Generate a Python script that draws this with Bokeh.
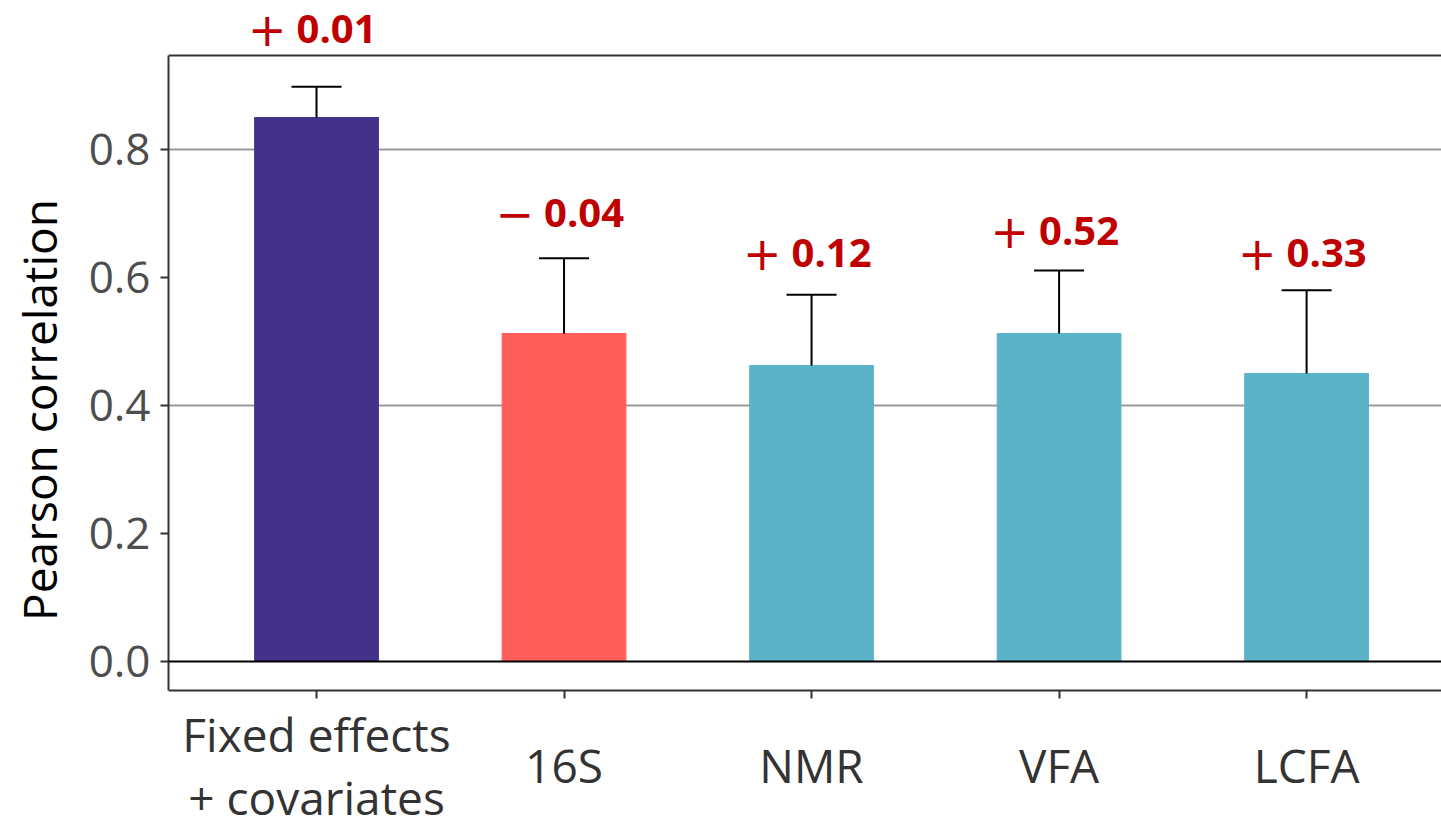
from bokeh.plotting import figure
from bokeh.models import (Range1d, FixedTicker, LinearAxis, Label, Span, Whisker,
                          ColumnDataSource, TeeHead, PrintfTickFormatter)
from bokeh.embed import file_html
from bokeh.resources import INLINE

categories = ["Fixed effects\n+ covariates", "16S", "NMR", "VFA", "LCFA"]
correlation = [0.85, 0.5125, 0.4625, 0.5125, 0.45]
upper = [0.898, 0.630, 0.573, 0.611, 0.580]
change_sign = ["+", "\u2212", "+", "+", "+"]
change_value = ["0.01", "0.04", "0.12", "0.52", "0.33"]
annot_y = [0.988, 0.700, 0.639, 0.672, 0.6375]
bar_colors = ["#44318A", "#FF5E5B", "#5BB3C9", "#5BB3C9", "#5BB3C9"]
y_ticks = [0.0, 0.2, 0.4, 0.6, 0.8]
grid_ticks = [0.4, 0.8]

FONT = "Open Sans"
xs = list(range(1, len(categories) + 1))
Y_LO, Y_HI = -0.0453, 0.9469   # panel limits

p = figure(width=1441, height=819, output_backend="svg", toolbar_location=None,
           x_range=Range1d(0.402, 5.545), y_range=Range1d(-0.24688, 1.03281),
           x_axis_location=None,
           min_border_left=168, min_border_right=0, min_border_top=0, min_border_bottom=0)
p.outline_line_color = None
p.background_fill_color = "white"
p.border_fill_color = "white"

src = ColumnDataSource(dict(x=xs, top=correlation, upper=upper, color=bar_colors))
p.vbar(x="x", top="top", bottom=0, width=0.5, color="color", source=src)

p.add_layout(Whisker(source=src, base="x", upper="upper", lower="top", dimension="height",
                     line_color="black", line_width=2,
                     upper_head=TeeHead(size=50, line_color="black", line_width=2),
                     lower_head=None, level="overlay"))

p.add_layout(Span(location=0, dimension="width", line_color="black", line_width=2))
p.add_layout(Span(location=Y_HI, dimension="width", line_color="#333333", line_width=2))

# grid
p.xgrid.visible = False
p.ygrid.ticker = FixedTicker(ticks=grid_ticks)
p.ygrid.grid_line_color = "#9a9a9a"
p.ygrid.grid_line_width = 2

# y axis
ya = p.yaxis[0]
ya.bounds = (Y_LO, Y_HI)
ya.ticker = FixedTicker(ticks=y_ticks)
ya.formatter = PrintfTickFormatter(format="%.1f")
ya.minor_tick_line_color = None
ya.major_tick_in = 0
ya.major_tick_out = 8
ya.major_tick_line_color = "#333333"
ya.major_tick_line_width = 2
ya.axis_line_color = "#333333"
ya.axis_line_width = 2
ya.major_label_text_font = FONT
ya.major_label_text_font_size = "44px"
ya.major_label_text_color = "#4d4d4d"
ya.major_label_standoff = 10
ya.axis_label = "Pearson correlation"
ya.axis_label_text_font = FONT
ya.axis_label_text_font_size = "46px"
ya.axis_label_text_font_style = "normal"
ya.axis_label_text_color = "black"
ya.axis_label_standoff = 16

# x axis, placed at the panel's lower edge
xa = LinearAxis(fixed_location=Y_LO, ticker=FixedTicker(ticks=xs))
xa.minor_tick_line_color = None
xa.major_tick_in = 0
xa.major_tick_out = 8
xa.major_tick_line_color = "#333333"
xa.major_tick_line_width = 2
xa.axis_line_color = "#333333"
xa.axis_line_width = 2
xa.major_label_text_font_size = "0px"
xa.major_label_text_color = None
p.add_layout(xa, "below")

# category labels
for x, c in zip(xs, categories):
    p.add_layout(Label(x=x, y=-0.1625, text=c, text_align="center", text_baseline="middle",
                       text_font=FONT, text_font_size="46px", text_color="#333333",
                       text_line_height=1.03))

# change annotations
for x, s, v, y in zip(xs, change_sign, change_value, annot_y):
    p.add_layout(Label(x=x, y=y, x_offset=-30, text=s, text_align="right", text_baseline="middle",
                       text_font="DejaVu Sans", text_font_size="46px", text_color="#C00000"))
    p.add_layout(Label(x=x, y=y, x_offset=-20, text=v, text_align="left", text_baseline="middle",
                       text_font=FONT, text_font_size="40px", text_font_style="bold",
                       text_color="#C00000"))

open("out.html", "w").write(file_html(p, INLINE))
